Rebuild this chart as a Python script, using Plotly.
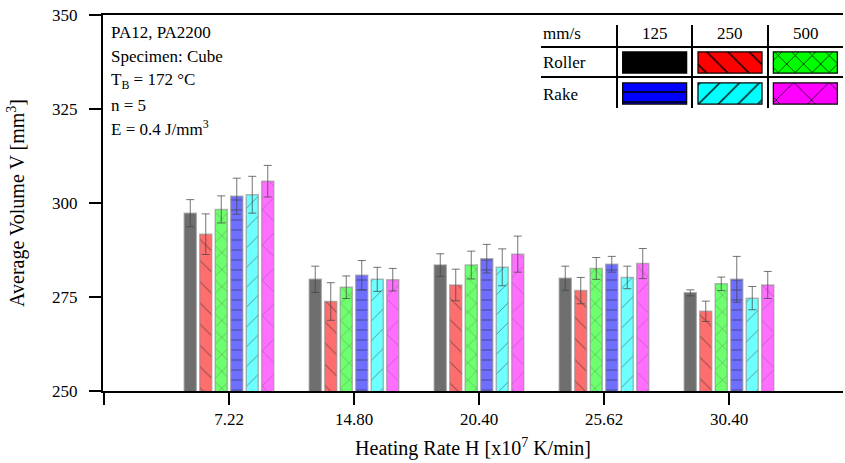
import plotly.graph_objects as go

# ---------------- data ----------------
categories = ["7.22", "14.80", "20.40", "25.62", "30.40"]
xpos = [0, 1, 2, 3, 4]

roller_125 = [297.3, 279.7, 283.5, 280.0, 276.1]
roller_125_err = [3.6, 3.5, 3.0, 3.2, 0.8]
roller_250 = [291.7, 273.8, 278.2, 276.7, 271.2]
roller_250_err = [5.4, 5.0, 4.2, 3.5, 2.7]
roller_500 = [298.3, 277.6, 283.5, 282.6, 278.5]
roller_500_err = [3.6, 3.0, 3.7, 2.9, 1.8]
rake_125 = [301.8, 280.8, 285.2, 283.7, 279.7]
rake_125_err = [4.8, 3.9, 3.8, 2.1, 6.1]
rake_250 = [302.2, 279.7, 282.9, 280.2, 274.7]
rake_250_err = [4.9, 3.2, 4.9, 3.0, 3.1]
rake_500 = [305.8, 279.6, 286.4, 283.9, 278.2]
rake_500_err = [4.2, 3.0, 4.8, 4.0, 3.6]

speed_labels = ["125", "250", "500"]
method_labels = ["Roller", "Rake"]

FONT = "Liberation Serif"
W, H = 845, 463
ML, MR, MT, MB = 103, 2, 15, 72
PW, PH = W - ML - MR, H - MT - MB


def px_x(px):
    return (px - ML) / PW


def px_y(py):
    return (H - MB - py) / PH


series = [
    ("Roller 125", roller_125, roller_125_err, "#6e6e6e", "#000000", "", 10, 0.1),
    ("Roller 250", roller_250, roller_250_err, "#ff6e6e", "#ff0000", "\\", 15, 0.07),
    ("Roller 500", roller_500, roller_500_err, "#6eff6e", "#00ff00", "x", 12, 0.08),
    ("Rake 125", rake_125, rake_125_err, "#6e6eff", "#0000ff", "-", 10, 0.11),
    ("Rake 250", rake_250, rake_250_err, "#6effff", "#00ffff", "/", 14, 0.07),
    ("Rake 500", rake_500, rake_500_err, "#ff6eff", "#ff00ff", "x", 25, 0.04),
]

fig = go.Figure()

for name, vals, errs, col, _, shape, size, sol in series:
    fig.add_trace(go.Bar(
        x=xpos, y=vals, name=name, showlegend=False,
        marker=dict(color=col,
                    line=dict(color="rgba(140,140,140,0.6)", width=1.5),
                    pattern=dict(shape=shape, fgcolor="#222222", fgopacity=0.45,
                                 size=size, solidity=sol)),
        error_y=dict(type="data", array=errs, visible=True,
                     color="rgba(70,70,70,0.75)", thickness=1, width=4),
    ))

# legend swatches (overlay subplot)
for i, (name, vals, errs, col, scol, shape, size, sol) in enumerate(series):
    col_idx = i % 3
    row = 1 if i < 3 else 0
    fig.add_trace(go.Bar(
        x=[col_idx], y=[0.68], base=[row + 0.16], width=[0.85], offset=-0.425,
        xaxis="x2", yaxis="y2", showlegend=False, hoverinfo="skip",
        marker=dict(color=scol, line=dict(color="black", width=1.2),
                    pattern=dict(shape=shape, fgcolor="black", fgopacity=1,
                                 size=size, solidity=min(sol * 1.4, 0.2))),
    ))

shapes = []
# table lines
for py in (47, 77):
    shapes.append(dict(type="line", xref="paper", yref="paper",
                       x0=px_x(541), x1=px_x(843), y0=px_y(py), y1=px_y(py),
                       line=dict(color="black", width=2)))
for pxv in (617, 692, 768):
    shapes.append(dict(type="line", xref="paper", yref="paper",
                       x0=px_x(pxv), x1=px_x(pxv), y0=px_y(25), y1=px_y(108),
                       line=dict(color="black", width=2)))

annotations = []
info = ["PA12, PA2200", "Specimen: Cube", "T<sub>B</sub> = 172 °C", "n = 5",
        "E = 0.4 J/mm<sup>3</sup>"]
info_y = [33, 57, 81, 105, 128]
for t, py in zip(info, info_y):
    annotations.append(dict(text=t, xref="paper", yref="paper", x=px_x(109), y=px_y(py),
                            xanchor="left", yanchor="middle", showarrow=False,
                            font=dict(family=FONT, size=17, color="black")))

annotations.append(dict(text="mm/s", xref="paper", yref="paper", x=px_x(541), y=px_y(34),
                        xanchor="left", yanchor="middle", showarrow=False,
                        font=dict(family=FONT, size=17, color="black")))
for lab, cx in zip(speed_labels, (655, 730, 806)):
    annotations.append(dict(text=lab, xref="paper", yref="paper", x=px_x(cx), y=px_y(34),
                            xanchor="center", yanchor="middle", showarrow=False,
                            font=dict(family=FONT, size=17, color="black")))
for lab, py in zip(method_labels, (63, 94)):
    annotations.append(dict(text=lab, xref="paper", yref="paper", x=px_x(541), y=px_y(py),
                            xanchor="left", yanchor="middle", showarrow=False,
                            font=dict(family=FONT, size=17, color="black")))

fig.update_layout(
    width=W, height=H,
    margin=dict(l=ML, r=MR, t=MT, b=MB),
    paper_bgcolor="white", plot_bgcolor="white",
    barmode="group", bargap=0.256, bargroupgap=0.226,
    font=dict(family=FONT, size=17, color="black"),
    xaxis=dict(
        range=[-1.008, 4.912], tickvals=[-1] + xpos, ticktext=[" "] + categories,
        showline=True, linecolor="black", linewidth=2, mirror=True,
        ticks="outside", ticklen=12, tickwidth=2, tickcolor="black",
        showgrid=False, zeroline=False,
        tickfont=dict(family=FONT, size=17, color="black"),
        title=dict(text="Heating Rate H [x10<sup>7</sup> K/min]",
                   font=dict(family=FONT, size=20, color="black"), standoff=13),
    ),
    yaxis=dict(
        range=[250, 350], tickvals=[250, 275, 300, 325, 350],
        showline=True, linecolor="black", linewidth=2, mirror=False,
        ticks="outside", ticklen=12, tickwidth=2, tickcolor="black",
        showgrid=False, zeroline=False, ticklabelstandoff=8,
        tickfont=dict(family=FONT, size=17, color="black"),
        title=dict(text="Average Volume V [mm<sup>3</sup>]",
                   font=dict(family=FONT, size=20, color="black"), standoff=22),
    ),
    xaxis2=dict(domain=[px_x(617), px_x(843)], range=[-0.5, 2.5], anchor="y2",
                visible=False, fixedrange=True),
    yaxis2=dict(domain=[px_y(109), px_y(47)], range=[0, 2], anchor="x2",
                visible=False, fixedrange=True),
    shapes=shapes, annotations=annotations,
)

fig.write_html("out.html")
